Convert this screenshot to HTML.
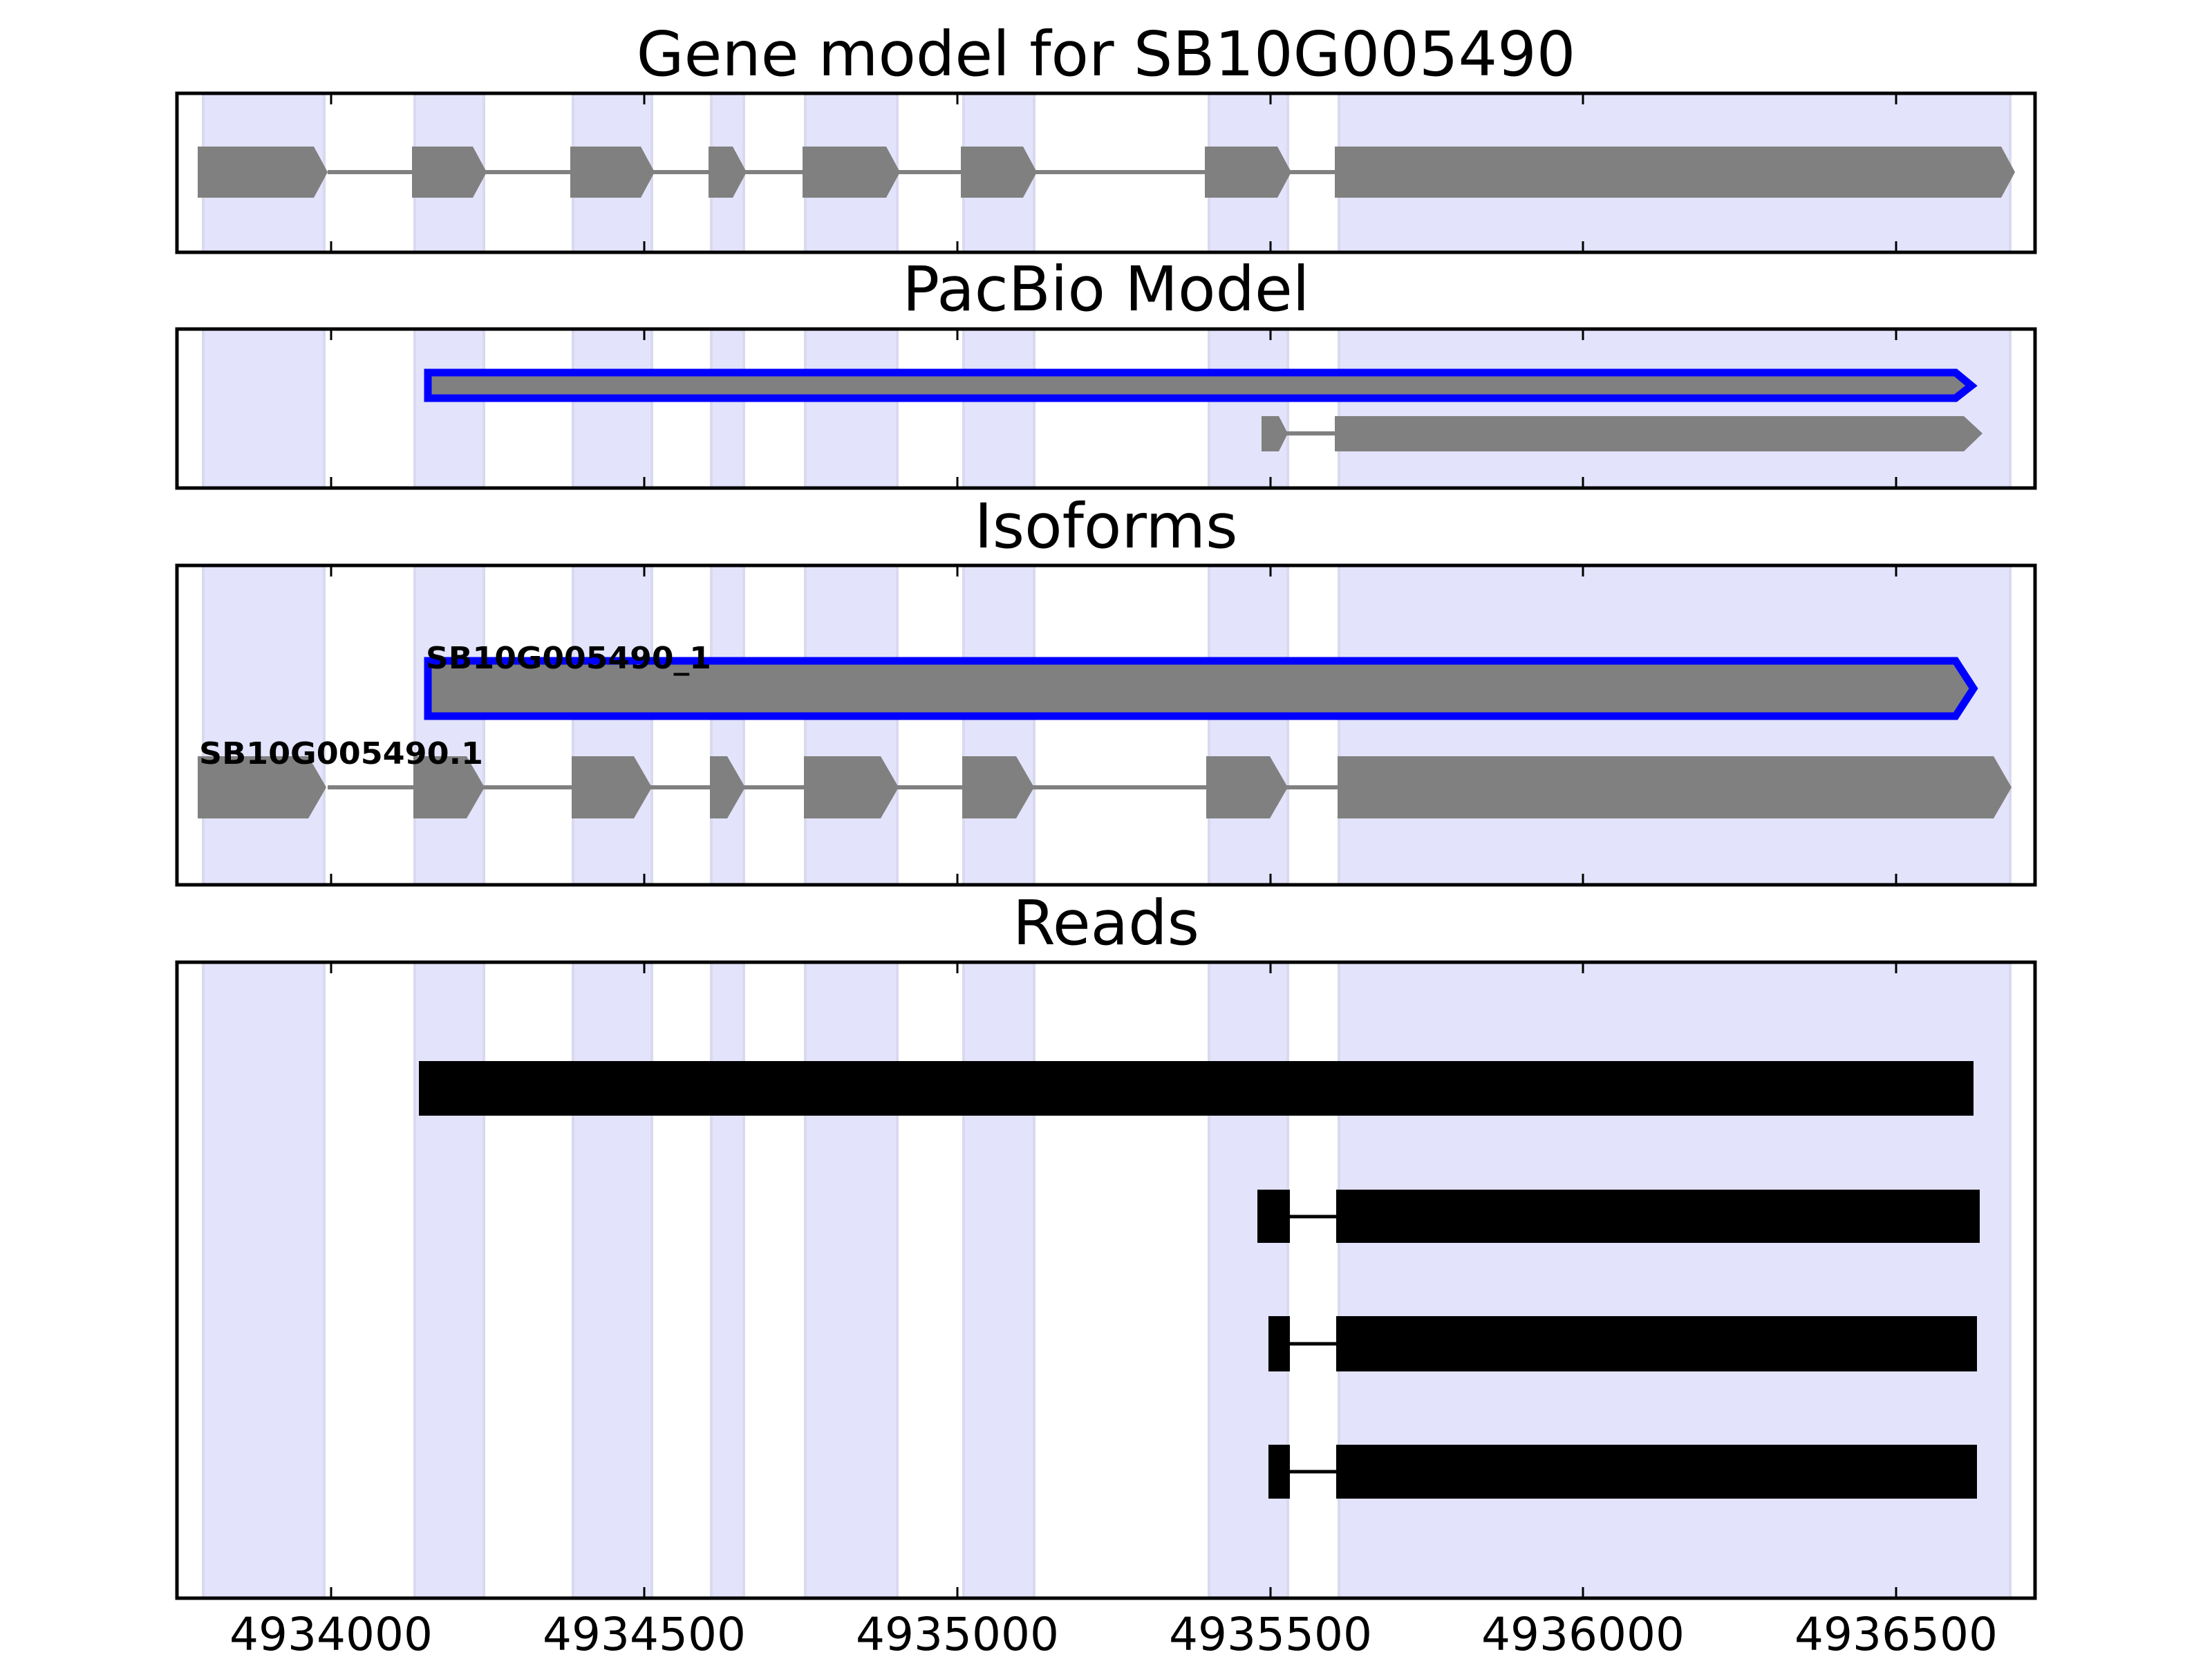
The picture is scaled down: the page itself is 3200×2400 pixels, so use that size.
<!DOCTYPE html>
<html><head><meta charset="utf-8"><style>html,body{margin:0;padding:0;background:#fff}svg{display:block}</style></head>
<body>
<svg width="3200" height="2400" viewBox="0 0 3200 2400" xmlns="http://www.w3.org/2000/svg" font-family="DejaVu Sans, Liberation Sans, sans-serif">
<!-- Panel 1 -->
<g>
<g fill="#e3e3fb" stroke="#d9d9ef" stroke-width="4">
<rect x="294" y="135" width="175" height="230"/><rect x="600" y="135" width="100" height="230"/><rect x="829" y="135" width="114" height="230"/><rect x="1029" y="135" width="47" height="230"/><rect x="1165" y="135" width="133" height="230"/><rect x="1394" y="135" width="102" height="230"/><rect x="1749" y="135" width="114" height="230"/><rect x="1937" y="135" width="971" height="230"/>
</g>
<line x1="474" y1="249" x2="1931" y2="249" stroke="#808080" stroke-width="6"/>
<g fill="#808080">
<polygon points="286,212 454,212 474,249 454,286 286,286"/>
<polygon points="596,212 684,212 704,249 684,286 596,286"/>
<polygon points="825,212 927,212 947,249 927,286 825,286"/>
<polygon points="1025,212 1060,212 1080,249 1060,286 1025,286"/>
<polygon points="1161,212 1282,212 1302,249 1282,286 1161,286"/>
<polygon points="1390,212 1480,212 1500,249 1480,286 1390,286"/>
<polygon points="1743,212 1848,212 1868,249 1848,286 1743,286"/>
<polygon points="1931,212 2895,212 2915,249 2895,286 1931,286"/>
</g>
</g>
<!-- Panel 2 -->
<g>
<g fill="#e3e3fb" stroke="#d9d9ef" stroke-width="4">
<rect x="294" y="476" width="175" height="230"/><rect x="600" y="476" width="100" height="230"/><rect x="829" y="476" width="114" height="230"/><rect x="1029" y="476" width="47" height="230"/><rect x="1165" y="476" width="133" height="230"/><rect x="1394" y="476" width="102" height="230"/><rect x="1749" y="476" width="114" height="230"/><rect x="1937" y="476" width="971" height="230"/>
</g>
<polygon points="619,539 2829,539 2852,558 2829,576 619,576" fill="#808080" stroke="#0000ff" stroke-width="11"/>
<line x1="1850" y1="627" x2="1931" y2="627" stroke="#808080" stroke-width="6"/>
<polygon points="1825,602 1850,602 1863,627 1850,653 1825,653" fill="#808080"/>
<polygon points="1931,602 2841,602 2868,627 2841,653 1931,653" fill="#808080"/>
</g>
<!-- Panel 3 -->
<g>
<g fill="#e3e3fb" stroke="#d9d9ef" stroke-width="4">
<rect x="294" y="818" width="175" height="462"/><rect x="600" y="818" width="100" height="462"/><rect x="829" y="818" width="114" height="462"/><rect x="1029" y="818" width="47" height="462"/><rect x="1165" y="818" width="133" height="462"/><rect x="1394" y="818" width="102" height="462"/><rect x="1749" y="818" width="114" height="462"/><rect x="1937" y="818" width="971" height="462"/>
</g>
<polygon points="619,956 2829,956 2855,996 2829,1036 619,1036" fill="#808080" stroke="#0000ff" stroke-width="11"/>
<line x1="474" y1="1139" x2="1935" y2="1139" stroke="#808080" stroke-width="6"/>
<g fill="#808080">
<polygon points="286,1094 446,1094 472,1139 446,1184 286,1184"/>
<polygon points="598,1094 675,1094 701,1139 675,1184 598,1184"/>
<polygon points="827,1094 917,1094 943,1139 917,1184 827,1184"/>
<polygon points="1027,1094 1052,1094 1078,1139 1052,1184 1027,1184"/>
<polygon points="1163,1094 1274,1094 1300,1139 1274,1184 1163,1184"/>
<polygon points="1392,1094 1470,1094 1496,1139 1470,1184 1392,1184"/>
<polygon points="1745,1094 1837,1094 1863,1139 1837,1184 1745,1184"/>
<polygon points="1935,1094 2884,1094 2910,1139 2884,1184 1935,1184"/>
</g>
<text x="616" y="967" font-size="44" font-weight="bold" fill="#000" textLength="413" lengthAdjust="spacingAndGlyphs">SB10G005490_1</text>
<text x="288" y="1105" font-size="44" font-weight="bold" fill="#000" textLength="411" lengthAdjust="spacingAndGlyphs">SB10G005490.1</text>
</g>
<!-- Panel 4 -->
<g>
<g fill="#e3e3fb" stroke="#d9d9ef" stroke-width="4">
<rect x="294" y="1392" width="175" height="920"/><rect x="600" y="1392" width="100" height="920"/><rect x="829" y="1392" width="114" height="920"/><rect x="1029" y="1392" width="47" height="920"/><rect x="1165" y="1392" width="133" height="920"/><rect x="1394" y="1392" width="102" height="920"/><rect x="1749" y="1392" width="114" height="920"/><rect x="1937" y="1392" width="971" height="920"/>
</g>
<g fill="#000">
<rect x="606" y="1535" width="2249" height="79"/>
<rect x="1819" y="1721" width="47" height="77"/><rect x="1933" y="1721" width="931" height="77"/>
<rect x="1835" y="1904" width="31" height="80"/><rect x="1933" y="1904" width="927" height="80"/>
<rect x="1835" y="2090" width="31" height="78"/><rect x="1933" y="2090" width="927" height="78"/>
</g>
<g stroke="#000" stroke-width="5">
<line x1="1866" y1="1760" x2="1933" y2="1760"/><line x1="1866" y1="1944" x2="1933" y2="1944"/><line x1="1866" y1="2129" x2="1933" y2="2129"/>
</g>
</g>
<!-- Frames and ticks -->
<g fill="none" stroke="#000" stroke-width="5">
<rect x="256" y="135" width="2688" height="230"/>
<rect x="256" y="476" width="2688" height="230"/>
<rect x="256" y="818" width="2688" height="462"/>
<rect x="256" y="1392" width="2688" height="920"/>
</g>
<g stroke="#000" stroke-width="3">
<path d="M479 135v16M932 135v16M1385 135v16M1838 135v16M2290 135v16M2743 135v16 M479 365v-16M932 365v-16M1385 365v-16M1838 365v-16M2290 365v-16M2743 365v-16"/>
<path d="M479 476v16M932 476v16M1385 476v16M1838 476v16M2290 476v16M2743 476v16 M479 706v-16M932 706v-16M1385 706v-16M1838 706v-16M2290 706v-16M2743 706v-16"/>
<path d="M479 818v16M932 818v16M1385 818v16M1838 818v16M2290 818v16M2743 818v16 M479 1280v-16M932 1280v-16M1385 1280v-16M1838 1280v-16M2290 1280v-16M2743 1280v-16"/>
<path d="M479 1392v16M932 1392v16M1385 1392v16M1838 1392v16M2290 1392v16M2743 1392v16 M479 2312v-16M932 2312v-16M1385 2312v-16M1838 2312v-16M2290 2312v-16M2743 2312v-16"/>
</g>
<g font-size="89" text-anchor="middle" fill="#000">
<text x="1600" y="109">Gene model for SB10G005490</text>
<text x="1600" y="449">PacBio Model</text>
<text x="1600" y="792">Isoforms</text>
<text x="1600" y="1366">Reads</text>
</g>
<g font-size="66" text-anchor="middle" fill="#000">
<text x="479" y="2387">4934000</text>
<text x="932" y="2387">4934500</text>
<text x="1385" y="2387">4935000</text>
<text x="1838" y="2387">4935500</text>
<text x="2290" y="2387">4936000</text>
<text x="2743" y="2387">4936500</text>
</g>
</svg>
</body></html>
